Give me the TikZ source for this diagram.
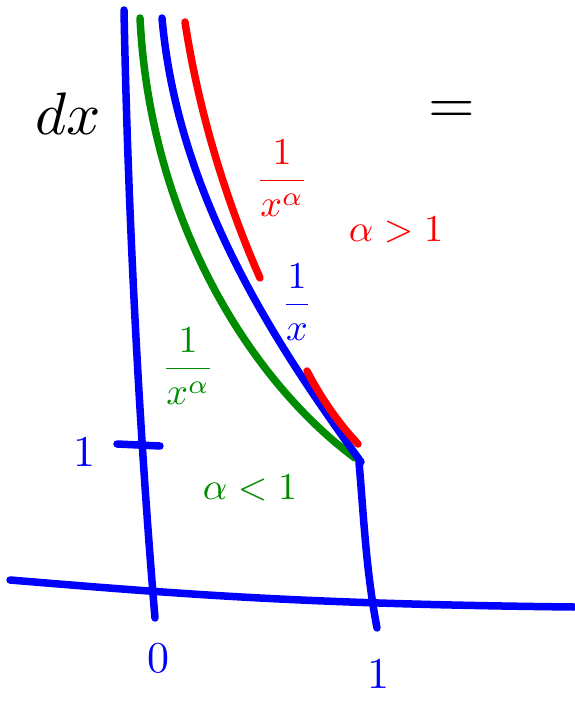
\documentclass[tikz,border=0pt]{standalone}
\usepackage{amsmath}
\usepackage{graphicx}
\usepackage{tikz}
\usetikzlibrary{positioning}
\definecolor{penblue}{RGB}{0,0,255}
\definecolor{penred}{RGB}{255,0,0}
\definecolor{pengreen}{RGB}{0,140,0}
\newcommand{\inkbig}[1]{\scalebox{3.8}{#1}}
\newcommand{\inkdigit}[1]{\scalebox{4.4}{#1}}
\newcommand{\inkhuge}[1]{\scalebox{6}{#1}}
\begin{document}
\begin{tikzpicture}[
  x=1pt,y=-1pt,
  pen/.style={line width=7.5pt,line cap=round,line join=round},
  axis/.style={pen,penblue},
  lbl/.style={inner sep=1pt}
]
\useasboundingbox (0,0) rectangle (574,701);

% AXES
\draw[axis] (124,10) .. controls (128,220) and (140,440) .. (155,618);
\draw[axis] (10,580) .. controls (180,594) and (300,604) .. (574,607);
\draw[axis] (117,444) -- (160,446);
\draw[axis] (359,462) .. controls (364,520) and (366,570) .. (377,628);

% CURVES
\draw[pen,pengreen] (140,18) .. controls (150,220) and (250,380) .. (355,458);
\draw[pen,penblue] (162,18) .. controls (178,200) and (280,350) .. (361,462);
\draw[pen,penred] (185,22) .. controls (200,120) and (230,210) .. (260,278);
\draw[pen,penred] (307,371) .. controls (322,400) and (340,425) .. (358,444);

% TEXTS
\node[lbl,anchor=east] (dx) at (102,114) {\inkhuge{$dx$}};
\node[lbl] (eq) at (452,112) {\inkhuge{$=$}};
\node[lbl,penred] (fred) at (282,178) {\inkbig{$\dfrac{1}{x^\alpha}$}};
\node[lbl,penred] (cred) at (396,230) {\inkbig{$\alpha>1$}};
\node[lbl,penblue] (fblue) at (297,302) {\inkbig{$\dfrac{1}{x}$}};
\node[lbl,pengreen] (fgreen) at (188,366) {\inkbig{$\dfrac{1}{x^\alpha}$}};
\node[lbl,pengreen] (cgreen) at (250,488) {\inkbig{$\alpha<1$}};
\node[lbl,penblue] (ytick) at (84,452) {\inkdigit{$1$}};
\node[lbl,penblue] (xzero) at (158,658) {\inkdigit{$0$}};
\node[lbl,penblue] (xone) at (378,674) {\inkdigit{$1$}};
\end{tikzpicture}
\end{document}
